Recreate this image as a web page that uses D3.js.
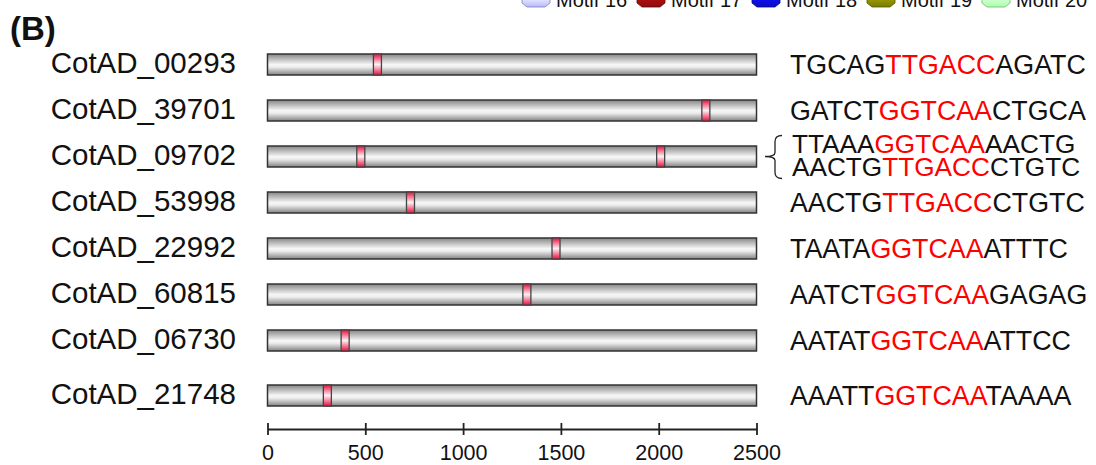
<!DOCTYPE html>
<html>
<head>
<meta charset="utf-8">
<script src="https://cdn.jsdelivr.net/npm/d3@7"></script>
<style>
    body { margin: 0; background: #fff; }
    svg { display: block; font-family: "Liberation Sans", Arial, sans-serif; }
</style>
</head>
<body>
<svg id="chart" width="1096" height="465"></svg>
<script>

// gene ids, top to bottom
let genes = ['CotAD_00293', 'CotAD_39701', 'CotAD_09702', 'CotAD_53998',
             'CotAD_22992', 'CotAD_60815', 'CotAD_06730', 'CotAD_21748'];

// gene length drawn (bp)
let lengths = [2500, 2500, 2500, 2500, 2500, 2500, 2500, 2500];

// W-box motif centres (bp), one list per gene
let motifs = [[562], [2241], [477, 2010], [731], [1475], [1326], [397], [306]];

// flanking sequences: [left, core, right]; 09702 has two sites
let sequences = [
    [['TGCAG', 'TTGACC', 'AGATC']],
    [['GATCT', 'GGTCAA', 'CTGCA']],
    [['TTAAA', 'GGTCAA', 'AACTG'], ['AACTG', 'TTGACC', 'CTGTC']],
    [['AACTG', 'TTGACC', 'CTGTC']],
    [['TAATA', 'GGTCAA', 'ATTTC']],
    [['AATCT', 'GGTCAA', 'GAGAG']],
    [['AATAT', 'GGTCAA', 'ATTCC']],
    [['AAATT', 'GGTCAA', 'TAAAA']]
];

let axis_ticks = [0, 500, 1000, 1500, 2000, 2500];

// legend, cut off at the top of the figure
let legend_names = ['Motif 16', 'Motif 17', 'Motif 18', 'Motif 19', 'Motif 20'];
let legend_colors = ['#b8b8ff', '#8b0d0d', '#0d0dc0', '#7a7a00', '#a8ffa8'];


let svg = d3.select('#chart'),
    defs = svg.append('defs');

let bar_h = 21,     // gene bar height
    motif_w = 41,   // motif box width, bp
    last_gap = 9;   // extra gap above the last row

let x = d3.scaleLinear()
    .domain([0, 2500])
    .range([267.5, 756.5]);

let y = d3.scalePoint()
    .domain(genes)
    .range([64.5, 64.5 + 7 * 46]);


add_gradient('bar_grad', [[0, '#858585'], [0.5, '#f6f6f6'], [0.62, '#eee'], [1, '#828282']]);
add_gradient('motif_grad', [[0, '#ec0c3c'], [0.5, '#fff0f4'], [1, '#ec0c3c']]);

legend_colors.forEach(function (c, i) {
    add_gradient('leg_grad' + i, [[0, d3.color(c).darker(0.6)], [0.5, d3.color(c).brighter(0.8)], [1, c]]);
});


draw_title();
draw_legend();
draw_genes();
draw_sequences();
draw_axis();


function row_y (g) {
    // the last row sits a little lower than the rest
    let i = genes.indexOf(g);
    return y(g) + (i === genes.length - 1 ? last_gap : 0);
}

function add_gradient (id, stops) {

    let grad = defs.append('linearGradient')
        .attr('id', id)
        .attr('x1', 0).attr('x2', 0)
        .attr('y1', 0).attr('y2', 1);

    grad.selectAll('stop')
        .data(stops)
        .enter()
        .append('stop')
        .attr('offset', d => d[0])
        .attr('stop-color', d => d[1]);

}

function draw_title () {

    svg.append('text')
        .attr('x', 10)
        .attr('y', 40)
        .attr('font-size', 33)
        .attr('font-weight', 'bold')
        .attr('fill', '#111')
        .text('(B)');

}

function draw_legend () {

    let item = svg.append('g')
        .selectAll('g')
        .data(legend_names)
        .enter()
        .append('g')
        .attr('transform', (d, i) => 'translate(' + (522 + i * 115) + ',0)');

    // arrow-ish swatch, only its lower end is on the page
    item.append('path')
        .attr('d', 'M0,-14 L28,-14 L28,3 L23,7 L5,7 L0,3 Z')
        .attr('fill', (d, i) => 'url(#leg_grad' + i + ')')
        .attr('stroke', (d, i) => d3.color(legend_colors[i]).darker(1))
        .attr('stroke-width', 0.8);

    item.append('text')
        .attr('x', 34)
        .attr('y', 7)
        .attr('font-size', 20)
        .attr('fill', '#111')
        .text(d => d);

}

function draw_genes () {

    let row = svg.append('g')
        .selectAll('g')
        .data(genes)
        .enter()
        .append('g')
        .attr('transform', d => 'translate(0,' + row_y(d) + ')');

    row.append('text')
        .attr('x', 236)
        .attr('y', 8.5)
        .attr('text-anchor', 'end')
        .attr('font-size', 29.5)
        .attr('fill', '#111')
        .text(d => d);

    row.append('rect')
        .attr('x', x(0))
        .attr('y', -bar_h / 2)
        .attr('width', (d, i) => x(lengths[i]) - x(0))
        .attr('height', bar_h)
        .attr('fill', 'url(#bar_grad)')
        .attr('stroke', '#333')
        .attr('stroke-width', 1.5);

    row.selectAll('.motif')
        .data((d, i) => motifs[i])
        .enter()
        .append('rect')
        .attr('class', 'motif')
        .attr('x', d => x(d - motif_w / 2))
        .attr('y', -bar_h / 2)
        .attr('width', x(motif_w) - x(0))
        .attr('height', bar_h)
        .attr('fill', 'url(#motif_grad)')
        .attr('stroke', '#444')
        .attr('stroke-width', 1.3);

}

function draw_sequences () {

    genes.forEach(function (g, i) {

        let seqs = sequences[i],
            cy = row_y(g),
            line_h = 23,
            two = seqs.length > 1;

        seqs.forEach(function (s, j) {

            let base = two ? cy - 4 + j * line_h : cy + 9;

            let t = svg.append('text')
                .attr('x', two ? 792 : 790)
                .attr('y', base)
                .attr('font-size', two ? 26.2 : 26.8)
                .attr('fill', '#111');

            t.selectAll('tspan')
                .data(s)
                .enter()
                .append('tspan')
                .attr('fill', (d, k) => k === 1 ? '#ff0000' : '#111')
                .text(d => d);

        });

        // brace joining the two sites of one gene
        if (two) {

            let top = cy - 21,
                bot = cy + 22;

            svg.append('path')
                .attr('d', 'M782,' + top + ' Q775,' + top + ' 775,' + (top + 6) +
                           ' L775,' + (cy - 4) + ' Q775,' + cy + ' 765,' + cy +
                           ' Q775,' + cy + ' 775,' + (cy + 4) +
                           ' L775,' + (bot - 6) + ' Q775,' + bot + ' 782,' + bot)
                .attr('fill', 'none')
                .attr('stroke', '#222')
                .attr('stroke-width', 1.3);

        }

    });

}

function draw_axis () {

    let axis = svg.append('g')
        .attr('transform', 'translate(0,429)')
        .call(d3.axisBottom(x)
            .tickValues(axis_ticks)
            .tickSize(0)
            .tickPadding(16)
            .tickFormat(d3.format('d')));

    axis.select('.domain')
        .attr('stroke', '#222')
        .attr('stroke-width', 1.8);

    axis.selectAll('.tick line')
        .attr('y1', -6)
        .attr('y2', 6)
        .attr('stroke', '#222')
        .attr('stroke-width', 1.8);

    axis.selectAll('.tick text')
        .attr('font-family', '"Liberation Sans", Arial, sans-serif')
        .attr('font-size', 21.5)
        .attr('fill', '#111');

}

</script>
</body>
</html>
